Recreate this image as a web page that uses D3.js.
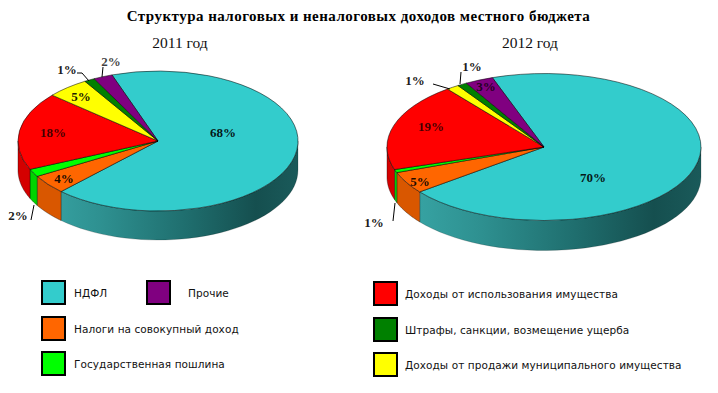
<!DOCTYPE html>
<html><head><meta charset="utf-8">
<script src="https://cdn.jsdelivr.net/npm/d3@7/dist/d3.min.js"></script>
<style>html,body{margin:0;padding:0;background:#fff}svg{display:block}</style></head>
<body><svg id="c" width="718" height="393"></svg>
<script>
const categories=["НДФЛ","Налоги на совокупный доход","Государственная пошлина","Доходы от использования имущества","Доходы от продажи муниципального имущества","Штрафы, санкции, возмещение ущерба","Прочие"];
const colors=["#33CCCC","#FF6600","#00FF00","#FF0000","#FFFF00","#008000","#800080"];
const sideColors=["#2E9C9C","#D95700","#00D400","#D40000","#D4D400","#006400","#600060"];
// shares as measured from the slice sweeps; the printed labels are these rounded
const values2011=[67.5,4.4,1.8,18,4.9,1.2,2.2];
const values2012=[69.8,4.8,0.7,19.4,1.3,1.0,2.9];
const title="Структура налоговых и неналоговых доходов местного бюджета";
const yearLabels=["2011 год","2012 год"];

const layouts=[
 {cx:158,cy:141,rx:140,ry:70,depth:29,tx:180,
  labels:[[223,132.5],[64,178.5],[18,215.5],[53,132.5],[81,96.5],[67,69.5],[111,61.5]],
  leaders:[[[31,220],[34,205]],[[77,73],[82,73],[89,81]],[[102,77],[103,67]]]},
 {cx:544,cy:147,rx:157,ry:73.5,depth:30,tx:530,
  labels:[[593,177.5],[420,181.5],[374,222.5],[431,126.5],[415,80.5],[472,66.5],[486,86.5]],
  leaders:[[[393,221],[395,203]],[[433,84],[450,89]],[[461,72],[460,84]]]}
];
const series=[values2011,values2012];
const svg=d3.select("#c");
const defs=svg.append("defs");
const serif="'Liberation Serif','Times New Roman',serif";

svg.append("text").attr("x",358.5).attr("y",21).attr("text-anchor","middle")
  .attr("font-family",serif).attr("font-weight","bold").attr("font-size",15).attr("letter-spacing",0.47).attr("fill","#000").text(title);

series.forEach((vals,si)=>{
  const L=layouts[si];
  const g=svg.append("g");
  const start=-19.2*Math.PI/180;
  const arcs=d3.pie().sort(null).startAngle(start).endAngle(start+2*Math.PI)(vals);
  const px=a=>L.cx+L.rx*Math.sin(a), py=a=>L.cy-L.ry*Math.cos(a);
  const grad=defs.append("linearGradient").attr("id","tg"+si).attr("gradientUnits","userSpaceOnUse")
    .attr("x1",L.cx-L.rx).attr("x2",L.cx+L.rx).attr("y1",0).attr("y2",0);
  [[0,"#3AABAB"],[0.3,"#2E9090"],[0.6,"#1F6E6E"],[0.85,"#154F4F"],[1,"#1A5A5A"]].forEach(s=>grad.append("stop").attr("offset",s[0]).attr("stop-color",s[1]));
  // side walls: the visible front half lies between angles PI/2 and 3PI/2
  arcs.forEach((d,i)=>{
    const a0=Math.max(d.startAngle,Math.PI/2), a1=Math.min(d.endAngle,1.5*Math.PI);
    if(a1<=a0) return;
    const pts=d3.range(0,41).map(k=>a0+(a1-a0)*k/40);
    const top=pts.map(a=>[px(a),py(a)]);
    const bot=pts.slice().reverse().map(a=>[px(a),py(a)+L.depth]);
    g.append("path").attr("d",d3.line()(top.concat(bot))+"Z")
      .attr("fill",i===0?`url(#tg${si})`:sideColors[i]).attr("stroke","#000").attr("stroke-width",0.5).attr("stroke-opacity",i===0?0.35:0.7);
  });
  // top face: d3.arc on a unit radius, flattened into the ellipse
  const arc=d3.arc().innerRadius(0).outerRadius(1);
  g.selectAll("path.top").data(arcs).enter().append("path").attr("class","top")
    .attr("d",arc).attr("transform",`translate(${L.cx},${L.cy}) scale(${L.rx},${L.ry})`)
    .attr("fill",(d,i)=>colors[i]).attr("stroke","#000").attr("stroke-width",0.7).attr("vector-effect","non-scaling-stroke").attr("stroke-opacity",0.75);
  L.leaders.forEach(p=>g.append("path").attr("d",d3.line()(p)).attr("fill","none").attr("stroke","#000").attr("stroke-width",1));
  vals.forEach((v,i)=>g.append("text").attr("x",L.labels[i][0]).attr("y",L.labels[i][1]+4.5).attr("text-anchor","middle")
    .attr("font-family",serif).attr("font-weight","bold").attr("font-size",13).attr("fill","#000").attr("fill-opacity",i===3||i===6?0.75:0.9).text(Math.round(v)+"%"));
  svg.append("text").attr("x",L.tx).attr("y",48).attr("text-anchor","middle").attr("font-family",serif).attr("font-size",15.5).attr("fill","#111").text(yearLabels[si]);
});

const legendPos=[[41,280,74],[41,316,74],[41,351,74],[373,281,405],[373,352,405],[373,317,405],[146,280,188]];
const lg=svg.append("g");
categories.forEach((c,i)=>{
  const [x,y,tx]=legendPos[i];
  lg.append("rect").attr("x",x+1).attr("y",y+1).attr("width",23).attr("height",23).attr("fill",colors[i]).attr("stroke","#000").attr("stroke-width",2);
  lg.append("text").attr("x",tx).attr("y",y+17).attr("font-family","'DejaVu Sans',sans-serif").attr("font-size",10.5).attr("letter-spacing",0.07).attr("fill","#111").text(c);
});
</script></body></html>
